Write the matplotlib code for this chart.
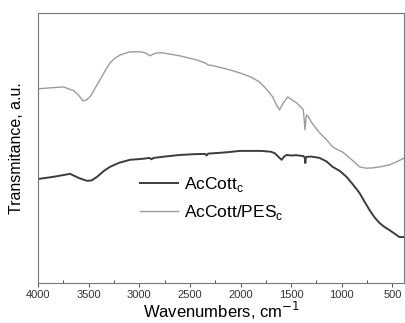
import numpy as np
import matplotlib
matplotlib.use("Agg")
import matplotlib.pyplot as plt
from matplotlib.ticker import MultipleLocator, NullLocator

plt.rcParams['font.family'] = ['Liberation Sans', 'DejaVu Sans']

# wavenumbers (cm-1) and transmittance (a.u.)
wn_pes = [4000, 3900, 3750, 3650, 3600, 3556, 3520, 3480, 3440, 3389, 3340, 3290,
          3240, 3191, 3093, 2994, 2940, 2895, 2860, 2826, 2767, 2600, 2432, 2340,
          2320, 2304, 2200, 2107, 2008, 1900, 1811, 1750, 1682, 1640, 1614, 1580,
          1535, 1500, 1446, 1400, 1380, 1370, 1362, 1355, 1347, 1328, 1300, 1219,
          1150, 1090, 1040, 992, 900, 824, 760, 696, 620, 529, 450, 381]
tr_pes = [71.9, 72.2, 72.6, 71.2, 69.5, 67.4, 67.8, 69.3, 72, 75.2, 78.5, 81.5,
          83.3, 84.4, 85.6, 85.6, 85.2, 84.1, 84.8, 85.2, 85.2, 84.1, 82.6, 81.3,
          80.6, 80.7, 79.8, 78.9, 77.8, 76.3, 74.4, 72, 68.9, 65.5, 64.1, 66.5,
          68.9, 68, 66.7, 65, 64.1, 60, 56.7, 60.5, 62.2, 61.5, 59.5, 55.6,
          53, 50.4, 49.3, 48.5, 45.6, 43, 42.5, 42.6, 43, 43.7, 45, 46.3]

wn_ac = [4000, 3850, 3684, 3600, 3517, 3470, 3418, 3350, 3290, 3200, 3093, 2960,
         2900, 2880, 2860, 2750, 2600, 2450, 2350, 2335, 2320, 2200, 2107, 2008,
         1900, 1800, 1700, 1660, 1620, 1594, 1570, 1545, 1500, 1450, 1380, 1366,
         1360, 1354, 1347, 1300, 1219, 1150, 1090, 1020, 953, 890, 824, 770,
         725, 680, 627, 580, 529, 480, 430, 381]
tr_ac = [38.5, 39.3, 40.4, 38.9, 37.8, 38, 39.3, 41.5, 43, 44.5, 45.6, 46,
         46.3, 45.8, 46.3, 46.8, 47.4, 47.7, 47.8, 47.2, 47.9, 48.2, 48.5, 48.9,
         48.9, 48.9, 48.6, 48, 46.5, 45.6, 46.8, 47.4, 47.2, 47.3, 47, 46.5,
         44.4, 46.5, 46.7, 46.8, 46.3, 45, 43, 41.5, 39.3, 36.5, 33.3, 29.8,
         27, 24.5, 22.2, 20.8, 19.6, 18.3, 17, 17]

labels = ['AcCott$_\\mathregular{c}$', 'AcCott/PES$_\\mathregular{c}$']

fig = plt.figure(figsize=(4.06, 3.23), dpi=100)
ax = fig.add_axes([0.094, 0.124, 0.901, 0.836])

ax.plot(wn_ac, tr_ac, color='#3c3c3c', lw=1.4, label=labels[0])
ax.plot(wn_pes, tr_pes, color='#9c9c9c', lw=1.0, label=labels[1])

ax.set_xlim(4000, 385)
ax.set_ylim(0, 100)
ax.xaxis.set_major_locator(MultipleLocator(500))
ax.xaxis.set_minor_locator(MultipleLocator(250))
ax.yaxis.set_major_locator(NullLocator())
ax.tick_params(axis='x', which='major', direction='out', length=3, width=0.6,
               labelsize=8, pad=2, colors='#333333')
ax.tick_params(axis='x', which='minor', direction='in', length=2, width=0.5)
for s in ax.spines.values():
    s.set_color('#777777')
    s.set_linewidth(0.8)

ax.set_xlabel('Wavenumbers, cm$^{-1}$', fontsize=12, labelpad=0)
ax.set_ylabel('Transmitance, a.u.', fontsize=11.5, labelpad=10)

leg = ax.legend(loc='center left', bbox_to_anchor=(0.236, 0.313), frameon=False,
                fontsize=12.5, handlelength=2.2, handletextpad=0.35,
                labelspacing=0.5)

fig.savefig('out.png', dpi=100)
